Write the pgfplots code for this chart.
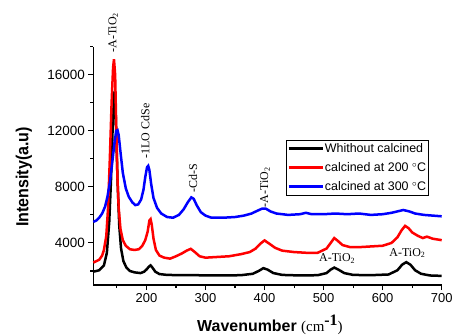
\documentclass[border=0pt]{standalone}
\usepackage{fontspec}
\setmainfont{Liberation Sans}
\newfontfamily\tnr{Liberation Serif}
\usepackage{graphicx}
\usepackage{pgfplots}
\pgfplotsset{compat=1.18}
\begin{document}
\begin{tikzpicture}
\path[use as bounding box] (-93.3bp,-50bp) rectangle (359.7bp,285bp);
\begin{axis}[
  at={(0,0)}, anchor=south west,
  scale only axis, width=348.4bp, height=238.3bp,
  xmin=110, xmax=700, ymin=1000, ymax=18000,
  axis lines*=left,
  axis line style={line width=1.3bp},
  clip=false,
  tick align=outside,
  major tick length=5bp, minor tick length=3bp,
  every tick/.style={line width=1.1bp, black},
  xtick={200,300,400,500,600,700},
  minor xtick={150,250,350,450,550,650},
  ytick={4000,8000,12000,16000},
  minor ytick={2000,6000,10000,14000,18000},
  scaled y ticks=false,
  /pgf/number format/assume math mode=true,
  /pgf/number format/1000 sep={},
  xticklabel style={font=\fontsize{13}{13}\selectfont},
  yticklabel style={font=\fontsize{13.5}{13.5}\selectfont},
  xlabel={{\bfseries Wavenumber} {\tnr\fontsize{15}{15}\selectfont (cm\raisebox{6bp}{\fontsize{16}{16}\selectfont\bfseries -1})}},
  xlabel style={at={(axis description cs:0.507,0)}, anchor=base, yshift=-46.3bp, font=\fontsize{16}{16}\selectfont},
  ylabel={\scalebox{0.92}[1]{\bfseries Intensity(a.u)}},
  ylabel style={at={(axis description cs:0,0.453)}, anchor=base, yshift=65bp, font=\fontsize{17.5}{17.5}\selectfont},
  legend style={at={(0.553,0.608)}, anchor=north west, draw=black, line width=0.6bp,
    font=\fontsize{12.5}{14}\selectfont, inner xsep=1bp, inner ysep=2bp,
    row sep=6.5bp, nodes={inner sep=1bp}},
  legend cell align=left,
  legend image code/.code={\draw[#1, line width=2.6bp] (0bp,0bp) -- (34bp,0bp);},
]
\addplot[black, line width=2.5bp] coordinates {
(110,1950)(120,2050)(128,2400)(133,3300)(137,5500)(140,8500)(143,12500)(145.5,14800)(148,13000)(151,8500)(154,5200)(157,3600)(161,2700)(166,2250)(172,2000)(180,1900)(190,1850)(196,1950)(200,2100)(204,2300)(207,2400)(210,2250)(215,1950)(222,1780)(235,1720)(260,1700)(280,1700)(300,1690)(330,1680)(360,1700)(380,1800)(390,2000)(398,2200)(405,2100)(415,1850)(430,1720)(460,1680)(490,1700)(505,1850)(512,2100)(518,2240)(525,2100)(535,1850)(550,1720)(580,1700)(610,1750)(625,2050)(633,2450)(640,2630)(647,2450)(655,2050)(665,1800)(680,1680)(700,1650)
};
\addlegendentry{Whithout calcined}
\addplot[red, line width=2.5bp] coordinates {
(110,2600)(115,2700)(120,2800)(125,3100)(128,3500)(132,4500)(135,6500)(138,10000)(141,14000)(143.5,16500)(145,17100)(147,16000)(149,12000)(151,8500)(153,6500)(156,5000)(160,4200)(165,3800)(172,3550)(180,3500)(187,3550)(193,3800)(198,4200)(202,4800)(205,5600)(207,5700)(209,5300)(212,4300)(216,3500)(222,3100)(230,2950)(240,2880)(250,3050)(260,3250)(268,3450)(275,3580)(282,3350)(290,3050)(300,2950)(320,3000)(340,3050)(360,3200)(375,3350)(385,3600)(393,3950)(400,4180)(408,3950)(418,3650)(430,3450)(450,3350)(470,3300)(490,3300)(505,3600)(512,4000)(518,4350)(524,4150)(532,3850)(545,3700)(560,3700)(580,3750)(600,3800)(615,4000)(625,4400)(632,4900)(638,5220)(644,5050)(650,4750)(660,4500)(668,4350)(675,4450)(685,4300)(700,4200)
};
\addlegendentry{calcined at 200 $^{\circ}$C}
\addplot[blue, line width=2.5bp] coordinates {
(110,5500)(115,5600)(120,5800)(125,6100)(130,6600)(134,7300)(138,8300)(142,9700)(146,11200)(149,12000)(151,12050)(153,11700)(156,10500)(160,9000)(165,7900)(170,7300)(176,6900)(181,6700)(186,6750)(191,7100)(195,7800)(198,8700)(201,9400)(203,9500)(205,9200)(208,8200)(212,7200)(218,6500)(225,6100)(235,5850)(245,5800)(255,6000)(263,6400)(270,6900)(276,7250)(280,7150)(285,6700)(292,6200)(300,5950)(310,5800)(330,5800)(350,5850)(365,5950)(378,6100)(388,6300)(396,6450)(402,6450)(410,6250)(420,6100)(440,6000)(460,6050)(470,6150)(480,6050)(500,6050)(520,6100)(540,6050)(560,6100)(580,6000)(600,6050)(615,6150)(625,6250)(635,6350)(645,6250)(655,6100)(670,6000)(685,5950)(700,5900)
};
\addlegendentry{calcined at 300 $^{\circ}$C}
\node[rotate=90, anchor=west, inner sep=0, font=\tnr\fontsize{12}{12}\selectfont] at (axis cs:144,17570) {-A-TiO\textsubscript{2}};
\node[rotate=90, anchor=west, inner sep=0, font=\tnr\fontsize{12}{12}\selectfont] at (axis cs:198,10020) {-1LO CdSe};
\node[rotate=90, anchor=west, inner sep=0, font=\tnr\fontsize{12}{12}\selectfont] at (axis cs:279,7580) {-Cd-S};
\node[rotate=90, anchor=west, inner sep=0, font=\tnr\fontsize{12}{12}\selectfont] at (axis cs:401,6520) {-A-TiO\textsubscript{2}};
\node[inner sep=0, font=\tnr\fontsize{12}{12}\selectfont] at (axis cs:523,2880) {A-TiO\textsubscript{2}};
\node[inner sep=0, font=\tnr\fontsize{12}{12}\selectfont] at (axis cs:642,3280) {A-TiO\textsubscript{2}};
\end{axis}
\end{tikzpicture}
\end{document}
